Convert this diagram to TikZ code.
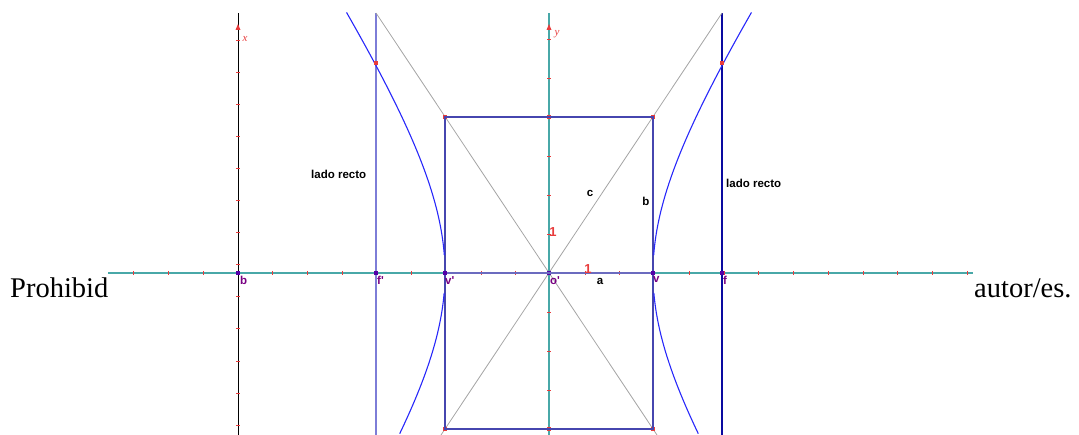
\documentclass[tikz,border=0pt]{standalone}
\usepackage{fontspec}
\setmainfont{Liberation Serif}
\newfontfamily\labfont{Liberation Sans}
\definecolor{axteal}{RGB}{72,168,168}
\definecolor{tickred}{RGB}{232,60,60}
\definecolor{ptpurple}{RGB}{120,0,130}
\definecolor{hypblue}{RGB}{40,40,250}
\definecolor{boxblue}{RGB}{70,70,175}
\definecolor{lightfoc}{RGB}{125,125,215}
\definecolor{darkfoc}{RGB}{10,10,160}
\definecolor{asym}{RGB}{165,165,165}
\begin{document}
\begin{tikzpicture}[x=1pt,y=-1pt,
  tealaxis/.style={draw=axteal,line width=2pt},
  blackaxis/.style={draw=black,line width=0.8pt},
  tickmark/.style={draw=tickred,line width=0.9pt},
  hyp/.style={draw=hypblue,line width=1.1pt},
  boxline/.style={draw=boxblue,line width=1.6pt},
  asymline/.style={draw=asym,line width=0.8pt},
  ptlabel/.style={text=ptpurple,font=\labfont\bfseries\fontsize{11.5}{12}\selectfont,inner sep=0pt,anchor=north west},
  blacklabel/.style={text=black,font=\labfont\bfseries\fontsize{11.5}{12}\selectfont,inner sep=0pt},
  onelabel/.style={text=tickred,font=\labfont\bfseries\fontsize{13}{13}\selectfont,inner sep=0pt},
  axlabel/.style={text=tickred,font=\itshape\fontsize{11}{11}\selectfont,inner sep=0pt},
  redpt/.style={fill=tickred,minimum size=3.2pt,inner sep=0pt,draw=none,rectangle},
  purplept/.style={fill=ptpurple!70!blue,minimum size=3.2pt,inner sep=0pt,draw=none,rectangle},
  bigtext/.style={font=\fontsize{28.5}{30}\selectfont,inner sep=0pt,anchor=base west}
]
\useasboundingbox (0,0) rectangle (1079,435);

% coordinates
\coordinate (hL) at (108,273);
\coordinate (hR) at (973,273);
\coordinate (xB) at (238,435);
\coordinate (xT) at (238,13);
\coordinate (yB) at (549,435);
\coordinate (yT) at (549,13);
\coordinate (fpB) at (376,435);
\coordinate (fpT) at (376,13);
\coordinate (fB) at (722,435);
\coordinate (fT) at (722,13);
\coordinate (asLT) at (376,13);
\coordinate (asRT) at (722,13);
\coordinate (asLB) at (441,435);
\coordinate (asRB) at (657,435);

% horizontal axis
\draw[tealaxis] (hL) -- (hR);
\foreach \k in {-3,...,21} \draw[tickmark] ({238+34.72*\k},271) -- ++(0,4);

% black vertical axis
\draw[blackaxis] (xB) -- (xT);
\foreach \k in {0,...,12} \draw[tickmark] (236,{40+32.1*\k}) -- ++(4,0);
\fill[tickred] (238,24) -- (240.5,30) -- (235.5,30) -- cycle;

% y axis
\draw[tealaxis] (yB) -- (yT);
\foreach \k in {1,...,6} \draw[tickmark] (547,{273-39*\k}) -- ++(4,0);
\foreach \k in {1,...,4} \draw[tickmark] (547,{273+39*\k}) -- ++(4,0);
\fill[tickred] (549,24) -- (551.5,30) -- (546.5,30) -- cycle;

% focus lines
\draw[draw=lightfoc,line width=2pt] (fpB) -- (fpT);
\draw[draw=darkfoc,line width=1.2pt] (fB) -- (fT);

% asymptotes
\draw[asymline] (asLT) -- (asRB);
\draw[asymline] (asRT) -- (asLB);

% box
\node[redpt] (c1) at (445,117) {};
\node[redpt] (c2) at (549,117) {};
\node[redpt] (c3) at (653,117) {};
\node[redpt] (c4) at (653,429) {};
\node[redpt] (c5) at (549,429) {};
\node[redpt] (c6) at (445,429) {};
\draw[boxline] (c1.center) -- (c3.center) -- (c4.center) -- (c6.center) -- cycle;

% hyperbola
\draw[hyp,domain=-1.2856:-0.115,samples=80,variable=\t] plot ({549-104*cosh(\t)},{273+156*sinh(\t)});
\draw[hyp,domain=0.128:0.903,samples=60,variable=\t] plot ({549-104*cosh(\t)},{273+156*sinh(\t)});
\draw[hyp,domain=-1.2856:-0.115,samples=80,variable=\t] plot ({549+104*cosh(\t)},{273+156*sinh(\t)});
\draw[hyp,domain=0.128:0.903,samples=60,variable=\t] plot ({549+104*cosh(\t)},{273+156*sinh(\t)});

% axis points
\node[purplept] (pb) at (238,273) {};
\node[purplept] (pfp) at (376,273) {};
\node[purplept] (pvp) at (445,273) {};
\node[purplept] (po) at (549,273) {};
\node[purplept] (pv) at (653,273) {};
\node[purplept] (pf) at (722,273) {};
\draw[draw=boxblue!80,line width=2pt] (pvp) -- (pv);
\node[redpt] (lr1) at (376,63) {};
\node[redpt] (lr2) at (722,63) {};

% point labels
\node[ptlabel] (lb) at (240,276) {b};
\node[ptlabel] (lfp) at (377,276) {f'};
\node[ptlabel] (lvp) at (445,276) {v'};
\node[ptlabel] (lo) at (550,276) {o'};
\node[ptlabel] (lv) at (653,276) {v};
\node[ptlabel] (lf) at (723,276) {f};

% other labels
\node[blacklabel] (la) at (600,281) {a};
\node[blacklabel] (lbb) at (646,201) {b};
\node[blacklabel] (lc) at (590,193) {c};
\node[blacklabel,anchor=west] (lr) at (311,174) {lado recto};
\node[blacklabel,anchor=west] (rr) at (726,183) {lado recto};
\node[onelabel] (one1) at (588,269) {1};
\node[onelabel] (one2) at (553,232) {1};
\node[axlabel] (lx) at (245,39) {x};
\node[axlabel] (ly) at (557,34) {y};

% page text
\node[bigtext] (t1) at (10,298) {Prohibid};
\node[bigtext] (t2) at (974,298) {autor/es.};
\end{tikzpicture}
\end{document}
